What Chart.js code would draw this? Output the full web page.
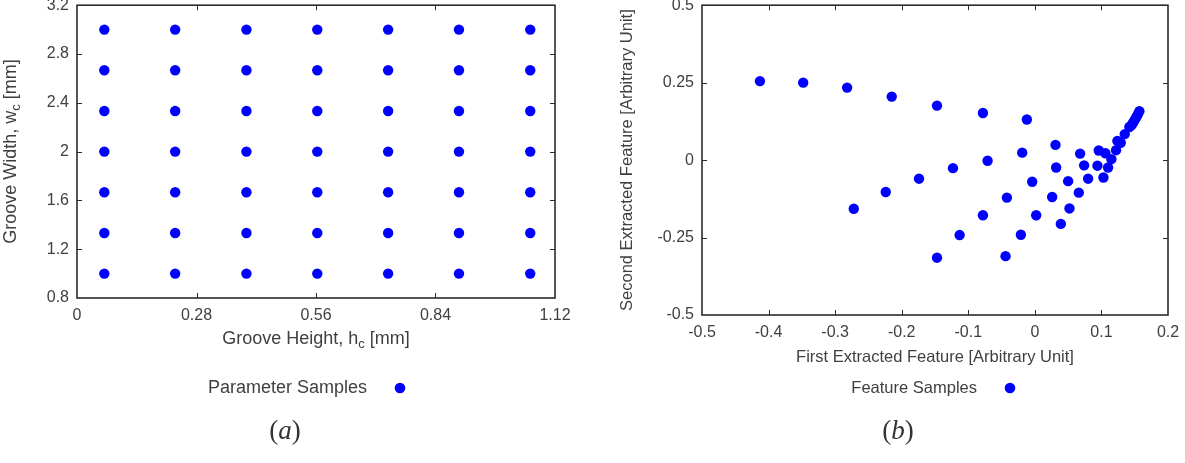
<!DOCTYPE html>
<html><head><meta charset="utf-8">
<script src="https://cdn.jsdelivr.net/npm/chart.js@4/dist/chart.umd.min.js"></script>
<style>
html,body{margin:0;padding:0;background:#fff;}
#wrap{position:relative;width:1185px;height:463px;overflow:hidden;background:#fff;}
.box{position:absolute;top:0;height:463px;}
#boxA{left:0;width:592px;}
#boxB{left:592px;width:593px;}
</style></head><body>
<div id="wrap">
  <div class="box" id="boxA"><canvas id="cA"></canvas></div>
  <div class="box" id="boxB"><canvas id="cB"></canvas></div>
</div>
<script>
// ---- (a) parameter samples ----
const grooveHeight = [0.064, 0.230, 0.397, 0.563, 0.729, 0.895, 1.062];
const grooveWidth = [1.0, 1.333, 1.667, 2.0, 2.333, 2.667, 3.0];
const paramXTicks = [0, 0.28, 0.56, 0.84, 1.12];
const paramXTickLabels = ['0', '0.28', '0.56', '0.84', '1.12'];
const paramYTicks = [0.8, 1.2, 1.6, 2.0, 2.4, 2.8, 3.2];
const paramYTickLabels = ['0.8', '1.2', '1.6', '2', '2.4', '2.8', '3.2'];

// ---- (b) feature samples ----
const featureX = [
  -0.413, -0.348, -0.282, -0.215, -0.147, -0.078, -0.012,
  -0.272, -0.224, -0.174, -0.123, -0.071, -0.019, 0.031,
  -0.147, -0.113, -0.078, -0.042, -0.004, 0.032, 0.068,
  -0.044, -0.021, 0.002, 0.026, 0.050, 0.074, 0.096,
  0.039, 0.052, 0.066, 0.080, 0.094, 0.106, 0.124,
  0.103, 0.110, 0.115, 0.122, 0.129, 0.135, 0.142,
  0.145, 0.147, 0.149, 0.151, 0.153, 0.155, 0.157
];
const featureY = [
  0.255, 0.250, 0.234, 0.205, 0.176, 0.152, 0.131,
  -0.157, -0.103, -0.060, -0.026, -0.002, 0.024, 0.049,
  -0.315, -0.242, -0.178, -0.121, -0.070, -0.024, 0.021,
  -0.310, -0.241, -0.178, -0.119, -0.068, -0.017, 0.031,
  -0.206, -0.156, -0.105, -0.060, -0.018, 0.022, 0.062,
  -0.056, -0.024, 0.003, 0.032, 0.056, 0.084, 0.107,
  0.112, 0.119, 0.126, 0.133, 0.141, 0.149, 0.158
];
const featXTicks = [-0.5, -0.4, -0.3, -0.2, -0.1, 0, 0.1, 0.2];
const featXTickLabels = ['-0.5', '-0.4', '-0.3', '-0.2', '-0.1', '0', '0.1', '0.2'];
const featYTicks = [-0.5, -0.25, 0, 0.25, 0.5];
const featYTickLabels = ['-0.5', '-0.25', '0', '0.25', '0.5'];

const SANS = "'Liberation Sans', Arial, sans-serif";
const SERIF = "'Liberation Serif', 'DejaVu Serif', serif";
const TEXT = '#404040';
const FRAME = '#2b2b2b';
const BLUE = '#0000ff';

function drawParts(ctx, parts, cx, cy, rotate) {
  ctx.save();
  ctx.translate(cx, cy);
  if (rotate) ctx.rotate(-Math.PI / 2);
  ctx.textBaseline = 'middle';
  ctx.textAlign = 'left';
  let w = 0;
  parts.forEach(p => { ctx.font = p.font; p.w = ctx.measureText(p.t).width; w += p.w; });
  let x = -w / 2;
  parts.forEach(p => { ctx.font = p.font; ctx.fillStyle = p.color || TEXT; ctx.fillText(p.t, x, p.dy || 0); x += p.w; });
  ctx.restore();
}

const decor = {
  id: 'decor',
  beforeDatasetsDraw(chart, args, o) {
    const ctx = chart.ctx, a = chart.chartArea;
    const xs = chart.scales.x, ys = chart.scales.y;
    ctx.save();
    ctx.strokeStyle = FRAME;
    ctx.lineWidth = 1;
    const L = 5;
    ctx.beginPath();
    xs.ticks.forEach(t => {
      const p = Math.round(xs.getPixelForValue(t.value)) + 0.5;
      if (p <= a.left + 2 || p >= a.right - 2) return;
      ctx.moveTo(p, a.bottom); ctx.lineTo(p, a.bottom - L);
      ctx.moveTo(p, a.top); ctx.lineTo(p, a.top + L);
    });
    ys.ticks.forEach(t => {
      const p = Math.round(ys.getPixelForValue(t.value)) + 0.5;
      if (p <= a.top + 2 || p >= a.bottom - 2) return;
      ctx.moveTo(a.left, p); ctx.lineTo(a.left + L, p);
      ctx.moveTo(a.right, p); ctx.lineTo(a.right - L, p);
    });
    ctx.stroke();
    ctx.lineWidth = 1.6;
    ctx.strokeRect(a.left, a.top, a.right - a.left, a.bottom - a.top);
    ctx.restore();
  },
  afterDraw(chart, args, o) {
    const ctx = chart.ctx, a = chart.chartArea;
    const F = o.titleSize + 'px ' + SANS, FS = Math.round(o.titleSize * 0.7) + 'px ' + SANS;
    const mk = arr => arr.map(p => typeof p === 'string' ? {t: p, font: F} : {t: p.sub, font: FS, dy: 5});
    // axis titles
    drawParts(ctx, mk(o.xTitle), (a.left + a.right) / 2, a.bottom + o.xTitleOffset, false);
    drawParts(ctx, mk(o.yTitle), o.yTitleX, (a.top + a.bottom) / 2, true);
    // legend (text then marker)
    ctx.save();
    ctx.font = F;
    ctx.fillStyle = TEXT;
    ctx.textAlign = 'right';
    ctx.textBaseline = 'middle';
    const dotX = a.left + o.legendDotOffset;
    ctx.fillText(o.legendText, dotX - 33, o.legendY);
    ctx.fillStyle = BLUE;
    ctx.beginPath();
    ctx.arc(dotX, o.legendY, 5.3, 0, Math.PI * 2);
    ctx.fill();
    ctx.restore();
    // caption
    const CF = '27px ' + SERIF, CI = 'italic 27px ' + SERIF;
    drawParts(ctx, [
      {t: '(', font: CF, color: '#333'},
      {t: o.caption, font: CI, color: '#333'},
      {t: ')', font: CF, color: '#333'}
    ], a.left + o.captionOffset, o.captionY, false);
  }
};

function axis(min, max, ticks, labels, fitFn) {
  return {
    type: 'linear', min, max,
    grid: {display: false, drawTicks: false},
    border: {display: false},
    ticks: {
      color: TEXT,
      font: {family: SANS, size: 16},
      padding: 8,
      autoSkip: false,
      maxRotation: 0,
      callback: (v, i) => labels[i]
    },
    afterBuildTicks: s => { s.ticks = ticks.map(v => ({value: v})); },
    afterFit: s => { fitFn(s); s.paddingTop = 0; s.paddingBottom = 0; s.paddingLeft = 0; s.paddingRight = 0; }
  };
}

function baseOptions(scales, padRight, deco) {
  return {
    responsive: true,
    maintainAspectRatio: false,
    animation: false,
    devicePixelRatio: 1,
    layout: {padding: {top: 5, right: padRight, left: 0, bottom: 0}},
    scales,
    plugins: {legend: {display: false}, tooltip: {enabled: false}, decor: deco}
  };
}

const paramPoints = [];
grooveWidth.forEach(w => grooveHeight.forEach(h => paramPoints.push({x: h, y: w})));

new Chart(document.getElementById('cA'), {
  type: 'scatter',
  data: {datasets: [{label: 'Parameter Samples', data: paramPoints, backgroundColor: BLUE, borderWidth: 0, pointRadius: 5.2, pointHoverRadius: 5.2}]},
  options: baseOptions({
    x: axis(0, 1.12, paramXTicks, paramXTickLabels, s => { s.height = 165; }),
    y: axis(0.8, 3.2, paramYTicks, paramYTickLabels, s => { s.width = 77; })
  }, 37, {
    titleSize: 18,
    xTitle: ['Groove Height, h', {sub: 'c'}, ' [mm]'], xTitleOffset: 41,
    yTitle: ['Groove Width, w', {sub: 'c'}, ' [mm]'], yTitleX: 11,
    legendText: 'Parameter Samples', legendY: 388, legendDotOffset: 323,
    caption: 'a', captionOffset: 208, captionY: 432
  }),
  plugins: [decor]
});

const featurePoints = featureX.map((x, i) => ({x, y: featureY[i]}));

new Chart(document.getElementById('cB'), {
  type: 'scatter',
  data: {datasets: [{label: 'Feature Samples', data: featurePoints, backgroundColor: BLUE, borderWidth: 0, pointRadius: 5.2, pointHoverRadius: 5.2}]},
  options: baseOptions({
    x: axis(-0.5, 0.2, featXTicks, featXTickLabels, s => { s.height = 148; }),
    y: axis(-0.5, 0.5, featYTicks, featYTickLabels, s => { s.width = 110; })
  }, 17, {
    titleSize: 16.5,
    xTitle: ['First Extracted Feature [Arbitrary Unit]'], xTitleOffset: 42,
    yTitle: ['Second Extracted Feature [Arbitrary Unit]'], yTitleX: 35,
    legendText: 'Feature Samples', legendY: 388, legendDotOffset: 308,
    caption: 'b', captionOffset: 196, captionY: 432
  }),
  plugins: [decor]
});
</script>
</body></html>
